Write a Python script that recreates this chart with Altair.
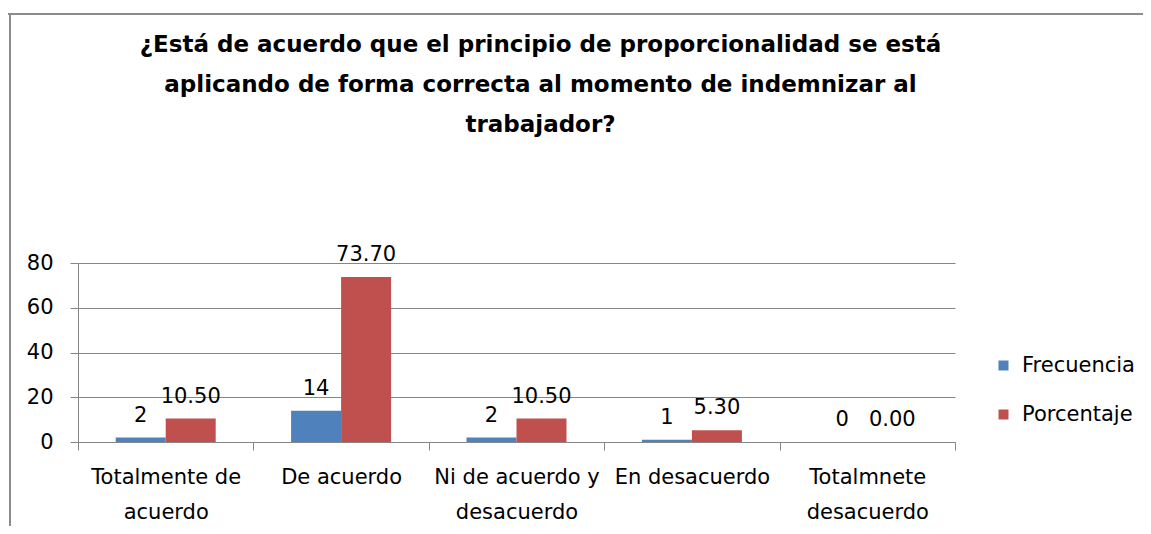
import altair as alt
import pandas as pd

categories = ["Totalmente de acuerdo", "De acuerdo", "Ni de acuerdo y desacuerdo",
              "En desacuerdo", "Totalmnete desacuerdo"]
frecuencia = [2, 14, 2, 1, 0]
porcentaje = [10.50, 73.70, 10.50, 5.30, 0.00]
series = ["Frecuencia", "Porcentaje"]
colors = ["#4F81BD", "#C0504D"]
title_lines = ["¿Está de acuerdo que el principio de proporcionalidad se está",
               "aplicando de forma correcta al momento de indemnizar al",
               "trabajador?"]

rows = []
for i, c in enumerate(categories):
    rows.append({"cat": c, "serie": series[0], "valor": frecuencia[i], "label": f"{frecuencia[i]:d}"})
    rows.append({"cat": c, "serie": series[1], "valor": porcentaje[i], "label": f"{porcentaje[i]:.2f}"})
df = pd.DataFrame(rows)

FONT = "DejaVu Sans"
FS = 21

x = alt.X("cat:N", sort=categories, title=None,
          scale=alt.Scale(paddingInner=0, paddingOuter=0),
          axis=alt.Axis(labelExpr="split(datum.label, ' ', 2)[0] == 'Ni' ? ['Ni de acuerdo y', 'desacuerdo'] : (datum.label == 'De acuerdo' || datum.label == 'En desacuerdo') ? datum.label : [slice(datum.label, 0, lastindexof(datum.label, ' ')), slice(datum.label, lastindexof(datum.label, ' ') + 1)]",
                        labelAngle=0, labelFontSize=FS, labelFont=FONT, labelColor="#000000",
                        labelLineHeight=35, labelPadding=16, tickBand="extent",
                        tickSize=8, tickColor="#868686", domainColor="#868686",
                        labelBaseline="top"))
xo = alt.XOffset("serie:N", sort=series,
                 scale=alt.Scale(paddingInner=0, paddingOuter=0.754))
y = alt.Y("valor:Q", title=None,
          scale=alt.Scale(domain=[0, 80], nice=False),
          axis=alt.Axis(values=[0, 20, 40, 60, 80], labelFontSize=FS, labelFont=FONT,
                        labelColor="#000000", tickSize=8, tickColor="#868686",
                        domainColor="#868686", gridColor="#868686", labelPadding=17))

bars = alt.Chart(df).mark_bar(strokeWidth=0).encode(
    x=x, xOffset=xo, y=y,
    color=alt.Color("serie:N", sort=series,
                    scale=alt.Scale(domain=series, range=colors),
                    legend=alt.Legend(title=None, orient="none", legendX=915, legendY=92,
                                      labelFontSize=FS, labelFont=FONT, labelColor="#000000",
                                      symbolType="square", symbolSize=100, symbolStrokeWidth=0,
                                      labelOffset=8, rowPadding=27))
)

texts = alt.Chart(df).mark_text(baseline="bottom", dy=-12, fontSize=FS, font=FONT,
                                color="#000000").encode(
    x=alt.X("cat:N", sort=categories), xOffset=alt.XOffset("serie:N", sort=series),
    y=alt.Y("valor:Q"), text="label:N")

top_border = alt.Chart(df).mark_rule(color="#8c8c8c", strokeWidth=2).encode(
    x=alt.value(-73), x2=alt.value(1080), y=alt.value(-249))
left_border = alt.Chart(df).mark_rule(color="#8c8c8c", strokeWidth=1.5).encode(
    x=alt.value(-68), y=alt.value(-249), y2=alt.value(280))

chart = alt.layer(bars, texts, top_border, left_border).properties(
    width=877, height=179,
    autosize=alt.AutoSizeParams(type="none"),
    padding={"left": 70, "top": 255, "right": 188, "bottom": 84},
    title=alt.TitleParams(title_lines, fontSize=23, font=FONT, fontWeight="bold",
                          color="#000000", anchor="middle", frame="group",
                          lineHeight=40, offset=0, dy=124, dx=24),
).configure_view(stroke=None).configure_axis(grid=False).configure_axisY(grid=True)

chart.save("out.html", embed_options={"renderer": "svg", "actions": False})
